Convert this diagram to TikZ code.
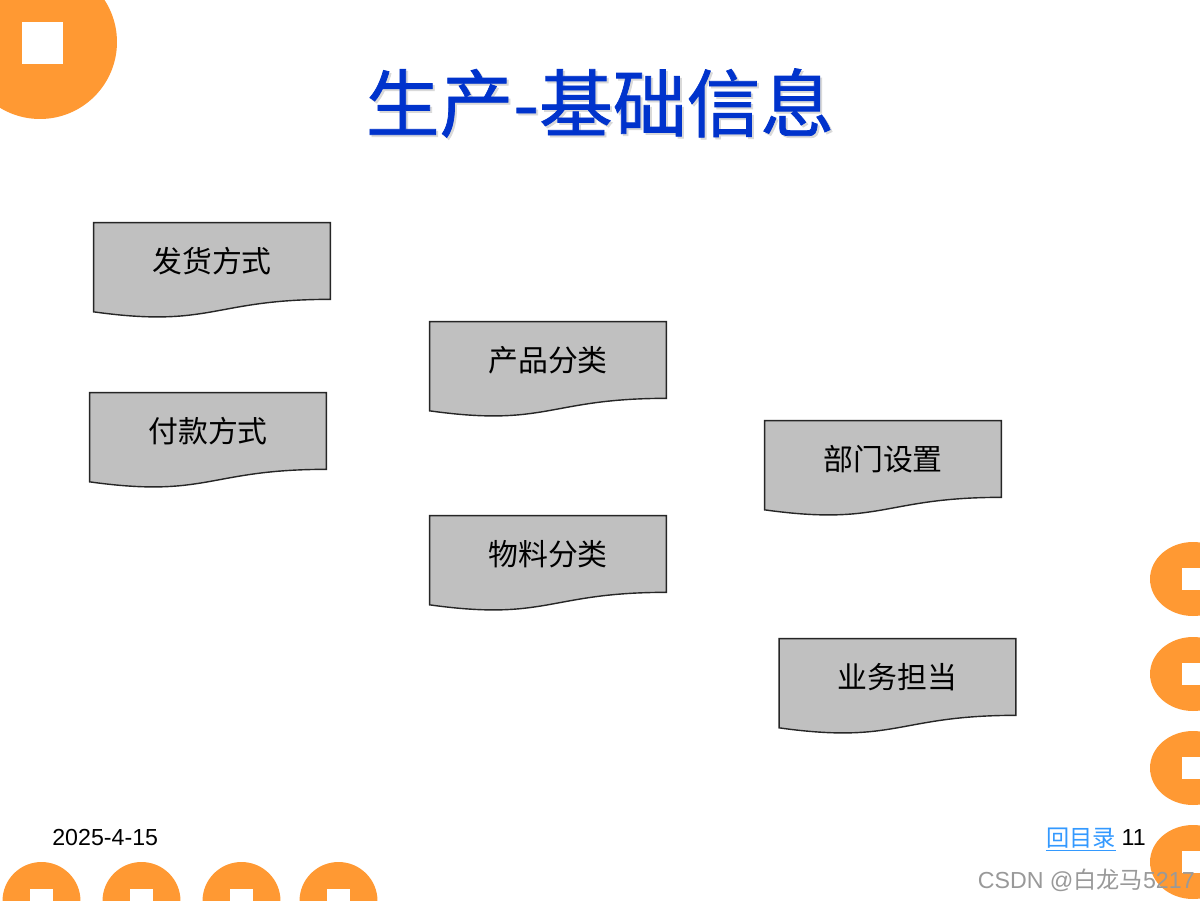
\documentclass[tikz,border=0pt]{standalone}
\usepackage{fontspec}
\setmainfont{Liberation Sans}
\newfontfamily\cjk{Noto Sans CJK SC}
\newfontfamily\cjktitle[FakeBold=1]{Noto Sans CJK SC}
\usetikzlibrary{calc,backgrounds,positioning}
\definecolor{decoorange}{RGB}{255,153,51}
\definecolor{titleblue}{RGB}{0,51,204}
\definecolor{docgray}{RGB}{192,192,192}
\definecolor{linkblue}{RGB}{51,153,255}

\tikzset{
  docnode/.style={minimum width=4.72cm, minimum height=1.52cm, inner sep=0pt,
    font=\cjk\fontsize{17}{20}\selectfont},
  docpaper/.style={draw=black!85, fill=docgray, line width=0.8pt},
  dot/.style={fill=decoorange, draw=none},
  hole/.style={fill=white, draw=none},
  footer/.style={inner sep=0pt, font=\fontsize{13.2}{15}\selectfont},
}

% document shape: rectangle with a wavy lower edge
\newcommand{\docshape}[4]{%
  \node[docnode] (#1) at (#2,#3) {#4};
  \begin{scope}[on background layer]
    \draw[docpaper] (#1.north west) -- (#1.north east) -- (#1.south east)
      .. controls (#1.south) and ($(#1.south)+(0,29)$) .. ($(#1.south west)+(0,12.5)$) -- cycle;
  \end{scope}}

\begin{document}
\begin{tikzpicture}[x=0.02cm, y=-0.02cm]
  \useasboundingbox (0,0) rectangle (1200,900);
  \clip (0,0) rectangle (1200,900);
  \begin{scope}[on background layer]
    \fill[white] (0,0) rectangle (1200,900);
  \end{scope}

  % corner decorations
  \fill[dot] (40,42) circle (1.54cm);
  \fill[hole] (22,22) rectangle (63,64);
  \foreach \cx in {41.5,141.5,241.5,338.5} {
    \fill[dot] (\cx,901) circle (0.78cm);
    \fill[hole] ({\cx-11.5},889) rectangle ++(23,23);
  }
  \foreach \cy in {579,674,768,862} {
    \fill[dot] (1193,\cy) ellipse (0.86cm and 0.74cm);
    \fill[hole] (1182,{\cy-11}) rectangle ++(30,22);
  }

  % title
  \node[text=black!15, font=\cjktitle\fontsize{42}{48}\selectfont] (titleshadow) at (602,105) {生产-基础信息};
  \node[text=titleblue, font=\cjktitle\fontsize{42}{48}\selectfont] (title) at (600,103) {生产-基础信息};

  % documents
  \docshape{ship}{212}{261}{发货方式}
  \docshape{prodcat}{548}{360}{产品分类}
  \docshape{pay}{208}{431}{付款方式}
  \docshape{dept}{883}{459}{部门设置}
  \docshape{matcat}{548}{554}{物料分类}
  \docshape{sales}{897.5}{677}{业务担当}

  % footer
  \node[footer, anchor=east] (page) at (1146,838) {11};
  \node[footer, anchor=west] (date) at (52,838) {2025-4-15};
  \node[footer, left=0.1cm of page, text=linkblue, font=\cjk\fontsize{13.2}{15}\selectfont] (back) {回目录};
  \draw[linkblue, line width=0.6pt] ($(back.south west)+(0,1.5)$) -- ($(back.south east)+(0,1.5)$);
  \node[footer, anchor=east, text=black!40] (mark) at (1195,880) {CSDN @{\cjk 白龙马}5217};
\end{tikzpicture}
\end{document}
